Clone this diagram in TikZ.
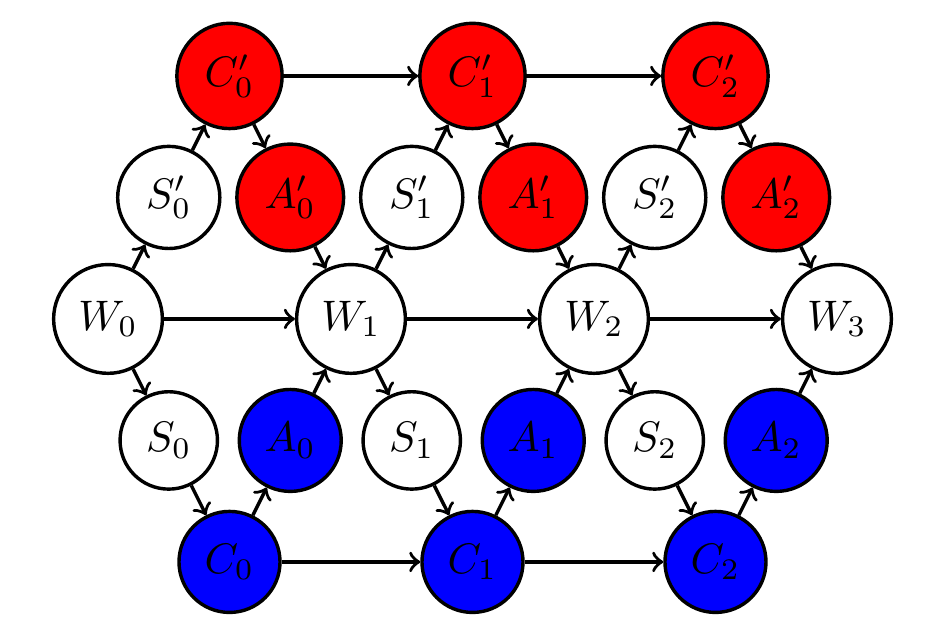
\documentclass[tikz,border=0pt]{standalone}
\begin{document}
\begin{tikzpicture}[
  st/.style={circle, draw, thick, fill=white},
  rd/.style={st, fill=red},
  bl/.style={st, fill=blue},
  ar/.style={->, thick}]
\useasboundingbox (-1.778,-5.30) rectangle (13.597,5.25);
\begin{scope}[transform canvas={scale=2}]
% W nodes
\node[st] (W0) at (0,0) {$W_0$};
\node[st] (W1) at (2,0) {$W_1$};
\node[st] (W2) at (4,0) {$W_2$};
\node[st] (W3) at (6,0) {$W_3$};
% upper
\node[rd] (Cp0) at (1,2) {$C'_0$};
\node[rd] (Cp1) at (3,2) {$C'_1$};
\node[rd] (Cp2) at (5,2) {$C'_2$};
\node[st] (Sp0) at (0.5,1) {$S'_0$};
\node[st] (Sp1) at (2.5,1) {$S'_1$};
\node[st] (Sp2) at (4.5,1) {$S'_2$};
\node[rd] (Ap0) at (1.5,1) {$A'_0$};
\node[rd] (Ap1) at (3.5,1) {$A'_1$};
\node[rd] (Ap2) at (5.5,1) {$A'_2$};
% lower
\node[bl] (C0) at (1,-2) {$C_0$};
\node[bl] (C1) at (3,-2) {$C_1$};
\node[bl] (C2) at (5,-2) {$C_2$};
\node[st] (S0) at (0.5,-1) {$S_0$};
\node[st] (S1) at (2.5,-1) {$S_1$};
\node[st] (S2) at (4.5,-1) {$S_2$};
\node[bl] (A0) at (1.5,-1) {$A_0$};
\node[bl] (A1) at (3.5,-1) {$A_1$};
\node[bl] (A2) at (5.5,-1) {$A_2$};
% edges
\draw[ar] (W0) -- (W1);
\draw[ar] (W1) -- (W2);
\draw[ar] (W2) -- (W3);
\draw[ar] (Cp0) -- (Cp1);
\draw[ar] (Cp1) -- (Cp2);
\draw[ar] (C0) -- (C1);
\draw[ar] (C1) -- (C2);
\foreach \i/\j in {0/1,1/2,2/3} {
  \draw[ar] (W\i) -- (Sp\i);
  \draw[ar] (Sp\i) -- (Cp\i);
  \draw[ar] (Cp\i) -- (Ap\i);
  \draw[ar] (Ap\i) -- (W\j);
  \draw[ar] (W\i) -- (S\i);
  \draw[ar] (S\i) -- (C\i);
  \draw[ar] (C\i) -- (A\i);
  \draw[ar] (A\i) -- (W\j);
}
\end{scope}
\end{tikzpicture}
\end{document}
